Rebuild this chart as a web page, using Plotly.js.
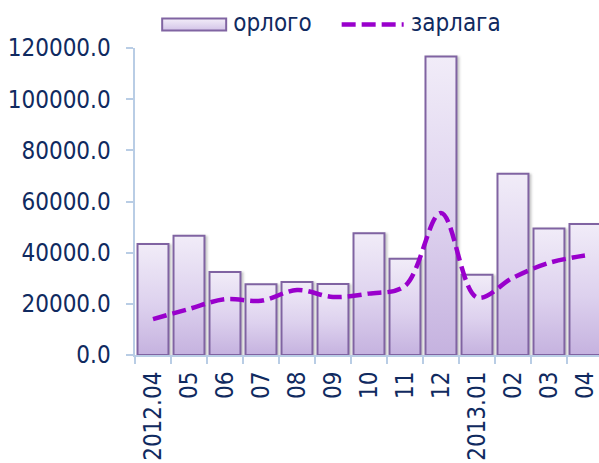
<!DOCTYPE html>
<html>
<head>
<meta charset="utf-8">
<script src="https://cdn.plot.ly/plotly-3.0.1.min.js"></script>
<style>html,body{margin:0;padding:0;background:#fff}</style>
</head>
<body>
<div id="chart" style="width:599px;height:463px"></div>
<script>
var categories = ["2012.04","2012.05","2012.06","2012.07","2012.08","2012.09","2012.10","2012.11","2012.12","2013.01","2013.02","2013.03","2013.04"];
var tickLabels = ["2012.04","05","06","07","08","09","10","11","12","2013.01","02","03","04"];
var orlogo = [43400, 46600, 32400, 27700, 28500, 27800, 47600, 37600, 116700, 31400, 70800, 49400, 51200];
var zarlaga = [14000, 18000, 21800, 21200, 25400, 22700, 24000, 27000, 55500, 22500, 30200, 36000, 38900];

var FONT = '"DejaVu Sans Condensed", "DejaVu Sans", "Liberation Sans", sans-serif';
var TXT = '#102a60';
var AX = '#b9cde5';

var traces = [
  {
    type: 'bar', name: 'орлого', x: categories, y: orlogo,
    marker: {color: '#ddd0ee', line: {color: '#8064a2', width: 2}},
    hoverinfo: 'none'
  },
  {
    type: 'scatter', mode: 'lines', name: 'зарлага', x: categories, y: zarlaga,
    line: {color: '#9900cc', width: 4.5, dash: '14px,6px', shape: 'spline', smoothing: 1},
    hoverinfo: 'none'
  }
];

var layout = {
  width: 599, height: 463,
  margin: {l: 135, r: 0, t: 46, b: 108, pad: 0},
  paper_bgcolor: '#fff', plot_bgcolor: '#fff',
  font: {family: FONT, size: 24, color: TXT},
  bargap: 0.14,
  showlegend: true,
  legend: {orientation: 'h', x: 0.009, xanchor: 'left', y: 1.084, yanchor: 'middle',
           font: {family: FONT, size: 24, color: TXT}, itemwidth: 84,
           traceorder: 'normal'},
  xaxis: {
    type: 'category', range: [-0.5, 12.39],
    tickmode: 'array', tickvals: categories, ticktext: tickLabels,
    tickson: 'boundaries', ticks: 'outside', ticklen: 7, tickwidth: 2, tickcolor: AX,
    tickangle: -90, showline: true, linecolor: AX, linewidth: 2,
    showgrid: false, zeroline: false, ticklabelstandoff: 5,
    tickfont: {family: FONT, size: 24, color: TXT}
  },
  yaxis: {
    range: [0, 120000], tickmode: 'array',
    tickvals: [0, 20000, 40000, 60000, 80000, 100000, 120000],
    tickformat: '.1f', ticks: 'outside', ticklen: 7, tickwidth: 2, tickcolor: AX,
    showline: true, linecolor: AX, linewidth: 2.5, showgrid: false, zeroline: false,
    ticklabelstandoff: 10,
    tickfont: {family: FONT, size: 24, color: TXT}
  }
};

Plotly.newPlot('chart', traces, layout, {staticPlot: true}).then(function(gd){
  var svg = gd.querySelector('svg.main-svg');
  var ns = 'http://www.w3.org/2000/svg';
  var defs = svg.querySelector('defs');
  function addGrad(id, stops){
    var g = document.createElementNS(ns, 'linearGradient');
    g.setAttribute('id', id);
    g.setAttribute('x1', '0'); g.setAttribute('y1', '0');
    g.setAttribute('x2', '0'); g.setAttribute('y2', '1');
    stops.forEach(function(s){
      var st = document.createElementNS(ns, 'stop');
      st.setAttribute('offset', s[0]); st.setAttribute('stop-color', s[1]);
      g.appendChild(st);
    });
    defs.appendChild(g);
  }
  addGrad('barGrad', [['0%', '#f1ecf8'], ['55%', '#ddd1ee'], ['100%', '#c5b2df']]);
  addGrad('legGrad', [['0%', '#f3eef9'], ['100%', '#d2c3e7']]);
  var f = document.createElementNS(ns, 'filter');
  f.setAttribute('id', 'barShadow');
  f.setAttribute('x', '-10%'); f.setAttribute('y', '-10%');
  f.setAttribute('width', '130%'); f.setAttribute('height', '120%');
  var ds = document.createElementNS(ns, 'feDropShadow');
  ds.setAttribute('dx', '2'); ds.setAttribute('dy', '1');
  ds.setAttribute('stdDeviation', '1.2');
  ds.setAttribute('flood-color', '#808080'); ds.setAttribute('flood-opacity', '0.45');
  f.appendChild(ds);
  defs.appendChild(f);
  gd.querySelectorAll('.barlayer .point path').forEach(function(p){
    p.style.fill = 'url(#barGrad)';
    p.setAttribute('filter', 'url(#barShadow)');
  });
  // widen legend swatches to match the reference's long symbols
  function toLocal(el, x, y){
    var m = el.getScreenCTM().inverse();
    var p = svg.createSVGPoint(); p.x = x; p.y = y;
    return p.matrixTransform(m);
  }
  gd.querySelectorAll('.legend .traces').forEach(function(item){
    var txt = item.querySelector('.legendtext');
    var tr = txt.getBoundingClientRect();
    var cy = tr.top + tr.height / 2 + 1;
    var right = tr.left - 7;
    var line = item.querySelector('.legendlines path');
    var barPath = item.querySelector('.legendpoints path');
    if (line) {
      var a = toLocal(line, right - 62, cy), b = toLocal(line, right, cy);
      line.setAttribute('d', 'M' + a.x + ',' + a.y + 'L' + b.x + ',' + b.y);
    } else if (barPath) {
      var p0 = toLocal(barPath, right - 64, cy - 6), p1 = toLocal(barPath, right, cy + 6);
      barPath.setAttribute('d', 'M' + p0.x + ',' + p0.y + 'H' + p1.x + 'V' + p1.y + 'H' + p0.x + 'Z');
      barPath.style.fill = 'url(#legGrad)';
      barPath.style.stroke = '#8064a2';
      barPath.style.strokeWidth = '2px';
    }
  });
});
</script>
</body>
</html>
